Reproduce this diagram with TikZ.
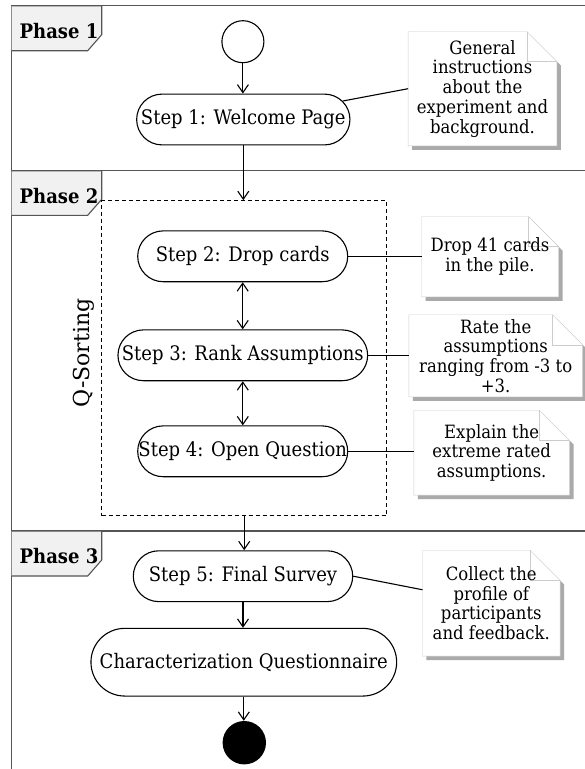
\documentclass[tikz,border=0pt]{standalone}
\usepackage{fontspec}
\setmainfont{DejaVu Serif}
\newfontfamily\condfont{DejaVu Serif}[FakeStretch=0.9]
\usetikzlibrary{arrows.meta,calc}
\pgfdeclarelayer{background}
\pgfsetlayers{background,main}
\definecolor{framec}{HTML}{555555}
\definecolor{tabfill}{HTML}{F1F1F1}
\definecolor{noteline}{HTML}{CCCCCC}
\definecolor{noteshadow}{HTML}{AAAAAA}
\newcommand\stepfont{\condfont\fontsize{20}{23}\selectfont}
\newcommand\notefont{\condfont\fontsize{18.3}{19.7}\selectfont}
\newcommand\phasefont{\condfont\fontsize{20}{23}\selectfont\bfseries}
\newcommand\qfont{\fontsize{22}{26}\selectfont}
\newcommand\noteoutline[1]{%
  \fill[noteshadow] ($(#1.south west)+(4,4)$) -- ($(#1.north west)+(4,4)$) -- ($(#1.north east)+(-26,4)$) -- ($(#1.north east)+(4,34)$) -- ($(#1.south east)+(4,4)$) -- cycle;
  \filldraw[fill=white, draw=noteline] (#1.south west) -- (#1.north west) -- ($(#1.north east)+(-30,0)$) -- ($(#1.north east)+(0,30)$) -- (#1.south east) -- cycle;
  \draw[noteline] ($(#1.north east)+(-30,0)$) -- ($(#1.north east)+(-30,30)$) -- ($(#1.north east)+(0,30)$);
}
\newcommand\phasetab[3]{%
  \filldraw[fill=tabfill, draw=framec, line width=1.1pt] (11.7,#1) -- (101.7,#1) -- (101.7,#2-16) -- (87.7,#2) -- (11.7,#2);
  \node[anchor=base west, inner sep=0pt, font=\phasefont] at (19.5,#1+32.3) {#3};
}
\tikzset{
  stepbox/.style={draw, line width=1.1pt, rounded corners=25.4pt, minimum height=50.8pt, inner sep=0pt, font=\stepfont},
  notebox/.style={inner sep=0pt, align=center, font=\notefont},
  arr/.style={line width=1.1pt, -{Straight Barb[length=8pt,width=11pt]}},
  darr/.style={line width=1.1pt, {Straight Barb[length=8pt,width=11pt]}-{Straight Barb[length=8pt,width=11pt]}},
  link/.style={line width=1.1pt},
  frameline/.style={draw=framec, line width=1.1pt}
}
\begin{document}
\begin{tikzpicture}[x=1pt,y=-1pt]
\useasboundingbox (0,0) rectangle (585,769);
% frame
\draw[frameline] (585,5.7) -- (11.7,5.7) -- (11.7,769);
\draw[frameline] (11.7,170.7) -- (585,170.7);
\draw[frameline] (11.7,531) -- (585,531);
\phasetab{5.7}{50.7}{Phase 1}
\phasetab{170.7}{215.3}{Phase 2}
\phasetab{531}{576}{Phase 3}
% nodes
\node[draw, circle, line width=1.1pt, minimum size=42pt, inner sep=0pt] (start) at (242.9,41.7) {};
\node[stepbox, minimum width=213.3pt] (s1) at (243.3,119.5) {Step 1: Welcome Page};
\node[draw, dashed, dash pattern=on 4pt off 3pt, line width=1.1pt, minimum width=285pt, minimum height=315pt, inner sep=0pt] (qs) at (244.2,358.2) {};
\node[rotate=90, anchor=base, inner sep=0pt, font=\qfont] (qlabel) at (89.3,353) {Q-Sorting};
\node[stepbox, minimum width=210pt] (s2) at (242.7,256.3) {Step 2: Drop cards};
\node[stepbox, minimum width=249.7pt] (s3) at (242.8,355.3) {Step 3: Rank Assumptions};
\node[stepbox, minimum width=210pt] (s4) at (242.7,451.3) {Step 4: Open Question};
\node[stepbox, minimum width=219.4pt] (s5) at (243,576.2) {Step 5: Final Survey};
\node[stepbox, minimum width=305.7pt, minimum height=67.7pt, rounded corners=33.8pt] (cq) at (243.8,662.2) {Characterization Questionnaire};
\node[circle, fill=black, minimum size=43.4pt, inner sep=0pt] (stop) at (244.3,742.7) {};
% notes
\node[notebox, minimum width=148.4pt, minimum height=114pt] (n1) at (482.5,88.7) {General\\instructions\\about the\\experiment and\\background.};
\node[notebox, minimum width=136.6pt, minimum height=80pt] (n2) at (490,256.7) {Drop 41 cards\\in the pile.};
\node[notebox, minimum width=173.3pt, minimum height=81.7pt] (n3) at (495.7,355.8) {Rate the\\assumptions\\ranging from -3 to\\+3.};
\node[notebox, minimum width=155.3pt, minimum height=84.3pt] (n4) at (491.7,452.8) {Explain the\\extreme rated\\assumptions.};
\node[notebox, minimum width=137.3pt, minimum height=105.3pt] (n5) at (491.3,603.3) {Collect the\\profile of\\participants\\and feedback.};
\begin{pgfonlayer}{background}
\noteoutline{n1}
\noteoutline{n2}
\noteoutline{n3}
\noteoutline{n4}
\noteoutline{n5}
\end{pgfonlayer}
% arrows
\draw[arr] (start.south) -- (start.south |- s1.north);
\draw[arr] (s1.south) -- (s1.south |- qs.north);
\draw[darr] (s2.south) -- (s2.south |- s3.north);
\draw[darr] (s3.south) -- (s3.south |- s4.north);
\draw[arr] (qs.south) -- (qs.south |- s5.north);
\draw[arr] (s5.south) -- (s5.south |- cq.north);
\draw[arr] (cq.south) -- (cq.south |- stop.north);
% note links
\coordinate (s1c) at ($(s1.east)+(-7.7,-18.5)$);
\draw[link] (s1c) -- (n1.west);
\draw[link] (s2.east) -- (s2.east -| n2.west);
\draw[link] (s3.east) -- (s3.east -| n3.west);
\draw[link] (s4.east) -- (s4.east -| n4.west);
\coordinate (n5c) at ($(n5.north west)+(0,39.3)$);
\draw[link] (s5.east) -- (n5c);
\end{tikzpicture}
\end{document}
